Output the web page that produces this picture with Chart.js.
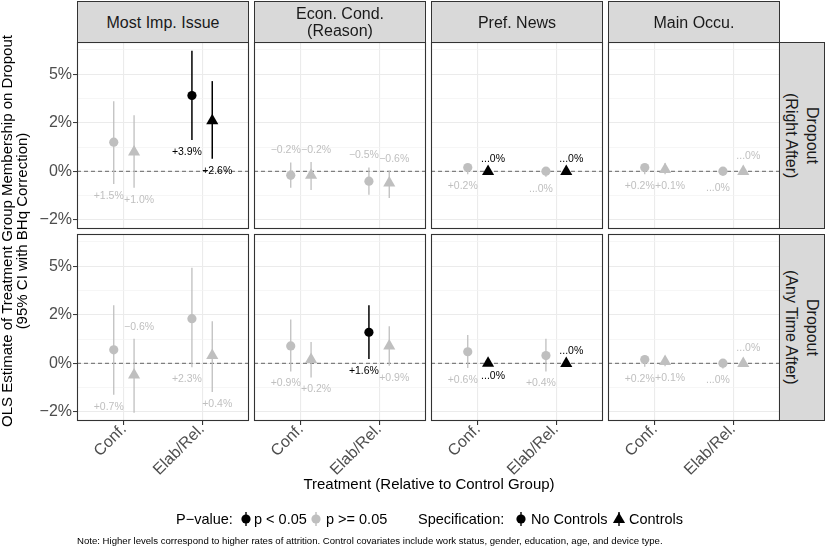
<!DOCTYPE html>
<html>
<head>
<meta charset="utf-8">
<script src="https://cdn.jsdelivr.net/npm/chart.js@4.4.1/dist/chart.umd.min.js"></script>
<style>
  body { margin: 0; background: #fff; font-family: "Liberation Sans", Arial, sans-serif; }
  #wrap { position: relative; width: 826px; height: 547px; overflow: hidden; background: #fff; }
  #wrap canvas { position: absolute; }
  .strip { position: absolute; box-sizing: border-box; border: 1px solid #333; background: #d9d9d9;
           color: #1a1a1a; font-size: 16px; line-height: 17px; display: flex; align-items: center;
           justify-content: center; text-align: center; white-space: pre; }
  .strip.side { writing-mode: vertical-rl; line-height: 21px; }
  .txt { position: absolute; white-space: pre; color: #000; }
  .key { position: absolute; }
</style>
</head>
<body>
<div id="wrap"></div>
<script>
// facets and categories
const facetLabels = ['Most Imp. Issue', 'Econ. Cond.\n(Reason)', 'Pref. News', 'Main Occu.'];
const rowLabels = ['Dropout\n(Right After)', 'Dropout\n(Any Time After)'];
const treatments = ['Conf.', 'Elab/Rel.'];
const specs = ['No Controls', 'Controls'];

// y axis (percentage points)
const yTicks = [-2.5, 0, 2.5, 5];
const yTickLabels = ['−2%', '0%', '2%', '5%'];
const yMinorTicks = [-1.25, 1.25, 3.75, 6.25];
const yMin = -2.96, yMax = 6.65;

// per panel: [Conf./No Controls, Conf./Controls, Elab/Rel./No Controls, Elab/Rel./Controls]
const estRight = [[1.5, 1.0, 3.9, 2.6], [-0.2, -0.2, -0.5, -0.6], [0.2, -0.01, 0.01, -0.01], [0.2, 0.1, 0.01, -0.01]];
const loRight  = [[-0.65, -0.84, 1.61, 0.65], [-0.84, -0.96, -1.2, -1.37], [-0.14, -0.04, -0.27, -0.04], [-0.14, -0.15, -0.22, -0.1]];
const hiRight  = [[3.61, 2.89, 6.2, 4.64], [0.46, 0.48, 0.2, 0.03], [0.34, 0.02, 0.17, 0.02], [0.37, 0.42, 0.15, 0.17]];
const sigRight = [[0, 0, 1, 1], [0, 0, 0, 0], [0, 1, 0, 1], [0, 0, 0, 0]];

const estAny = [[0.7, -0.6, 2.3, 0.4], [0.9, 0.2, 1.6, 0.9], [0.6, 0.01, 0.4, -0.01], [0.2, 0.1, 0.01, -0.01]];
const loAny  = [[-1.61, -2.53, -0.2, -1.47], [-0.41, -0.72, 0.23, -0.12], [-0.24, -0.05, -0.41, -0.04], [-0.17, -0.15, -0.26, -0.1]];
const hiAny  = [[2.99, 1.27, 4.92, 2.17], [2.25, 1.1, 2.99, 1.91], [1.46, 0.04, 1.27, 0.0], [0.4, 0.38, 0.1, 0.15]];
const sigAny = [[0, 0, 0, 0], [0, 0, 1, 0], [0, 1, 0, 1], [0, 0, 0, 0]];

const estRows = [estRight, estAny];
const loRows = [loRight, loAny];
const hiRows = [hiRight, hiAny];
const sigRows = [sigRight, sigAny];

// layout
const panelLeft = [77, 254, 431, 608];
const panelTop = [42, 234];
const PW = 172, PH = 187;
const M = 15, YW = 45, XH = 75;
const dodge = 0.13;
const GRAY = '#bfbfbf';
const FONT = '"Liberation Sans", Arial, sans-serif';

const wrap = document.getElementById('wrap');

function fmtPct(v) {
    if (Math.abs(v) < 0.05) return '...0%';
    return (v > 0 ? '+' : '−') + Math.abs(v).toFixed(1) + '%';
}

function addDiv(cls, text, css) {
    const d = document.createElement('div');
    d.className = cls;
    d.textContent = text;
    Object.assign(d.style, css);
    wrap.appendChild(d);
    return d;
}

function makePanel(r, c) {
    const est = estRows[r][c], lo = loRows[r][c], hi = hiRows[r][c], sig = sigRows[r][c];
    const xs = est.map((_, i) => Math.floor(i / 2) + 1 + (i % 2 ? dodge : -dodge));
    const colorOf = i => sig[i] ? '#000' : GRAY;

    const left = panelLeft[c] - M - (c === 0 ? YW : 0);
    const top = panelTop[r] - M;
    const w = PW + 2 * M + (c === 0 ? YW : 0);
    const h = PH + 2 * M + (r === 1 ? XH : 0);

    const cv = document.createElement('canvas');
    cv.width = w; cv.height = h;
    cv.style.left = left + 'px'; cv.style.top = top + 'px';
    cv.style.width = w + 'px'; cv.style.height = h + 'px';
    wrap.appendChild(cv);

    const datasets = [{
        data: est.map((v, i) => ({ x: xs[i], y: v })),
        pointStyle: est.map((_, i) => i % 2 ? 'triangle' : 'circle'),
        pointRadius: est.map((_, i) => i % 2 ? 7 : 4.6),
        backgroundColor: est.map((_, i) => colorOf(i)),
        borderColor: est.map((_, i) => colorOf(i)),
        borderWidth: 0,
        order: 0
    }];
    est.forEach((_, i) => {
        datasets.push({
            data: [{ x: xs[i], y: lo[i] }, { x: xs[i], y: hi[i] }],
            showLine: true,
            borderColor: colorOf(i),
            borderWidth: sig[i] ? 1.5 : 1.3,
            pointRadius: 0,
            order: 1
        });
    });
    datasets.push({
        data: [{ x: 0.4, y: 0 }, { x: 2.6, y: 0 }],
        showLine: true,
        borderColor: '#7f7f7f',
        borderWidth: 1.2,
        borderDash: [4, 3],
        pointRadius: 0,
        order: 2
    });

    const labelsAndFrame = {
        id: 'labelsAndFrame',
        afterDatasetsDraw(chart) {
            const { ctx, chartArea: a, scales: { x, y } } = chart;
            ctx.save();
            ctx.font = '10.5px ' + FONT;
            ctx.textAlign = 'center';
            ctx.textBaseline = 'middle';
            est.forEach((v, i) => {
                const px = x.getPixelForValue(xs[i]) + (i % 2 ? 5 : -5);
                const py = v > 0 ? y.getPixelForValue(lo[i]) + 12 : y.getPixelForValue(hi[i]) - 12;
                ctx.fillStyle = sig[i] ? '#000' : GRAY;
                ctx.fillText(fmtPct(v), px, py);
            });
            ctx.strokeStyle = '#333';
            ctx.lineWidth = 1.1;
            ctx.strokeRect(a.left + 0.5, a.top + 0.5, a.width - 1, a.height - 1);
            ctx.restore();
        }
    };

    const isMajor = ctx => ctx.tick && yTicks.includes(ctx.tick.value);

    new Chart(cv, {
        type: 'scatter',
        data: { datasets },
        plugins: [labelsAndFrame],
        options: {
            responsive: false,
            animation: false,
            events: [],
            layout: { padding: { left: M, right: M, top: M, bottom: M } },
            plugins: { legend: { display: false }, tooltip: { enabled: false } },
            scales: {
                x: {
                    type: 'linear', min: 0.4, max: 2.6, bounds: 'data',
                    afterBuildTicks: s => { s.ticks = treatments.map((_, i) => ({ value: i + 1 })); },
                    afterFit: s => { s.height = r === 1 ? XH : 0; },
                    border: { display: false },
                    grid: { color: '#ebebeb', lineWidth: 1.1, drawTicks: r === 1, tickLength: 4, tickColor: '#333' },
                    ticks: {
                        display: r === 1, autoSkip: false, minRotation: 45, maxRotation: 45,
                        padding: -5, color: '#4d4d4d', font: { family: FONT, size: 16 },
                        callback: v => treatments[v - 1]
                    }
                },
                y: {
                    type: 'linear', min: yMin, max: yMax, bounds: 'data',
                    afterBuildTicks: s => {
                        s.ticks = yTicks.concat(yMinorTicks).sort((a, b) => a - b).map(v => ({ value: v }));
                    },
                    afterFit: s => { s.width = c === 0 ? YW : 0; },
                    border: { display: false },
                    grid: {
                        color: ctx => isMajor(ctx) ? '#ebebeb' : '#f2f2f2',
                        lineWidth: ctx => isMajor(ctx) ? 1.1 : 0.7,
                        drawTicks: c === 0, tickLength: 4,
                        tickColor: ctx => isMajor(ctx) ? '#333' : 'rgba(0,0,0,0)',
                        tickWidth: 1
                    },
                    ticks: {
                        display: c === 0, padding: 1, color: '#4d4d4d', font: { family: FONT, size: 16 },
                        callback: v => { const k = yTicks.indexOf(v); return k >= 0 ? yTickLabels[k] : ''; }
                    }
                }
            }
        }
    });
}

for (let r = 0; r < 2; r++) for (let c = 0; c < 4; c++) makePanel(r, c);

// facet strips
facetLabels.forEach((t, c) => addDiv('strip', t, {
    left: panelLeft[c] + 'px', top: '1px', width: PW + 'px', height: panelTop[0] + 'px'
}));
rowLabels.forEach((t, r) => addDiv('strip side', t, {
    left: (panelLeft[3] + PW - 1) + 'px', top: panelTop[r] + 'px', width: '46px', height: PH + 'px'
}));

// axis titles
addDiv('txt', 'OLS Estimate of Treatment Group Membership on Dropout\n(95% CI with BHq Correction)', {
    left: (15 - 250) + 'px', top: (231 - 16) + 'px', width: '500px', height: '32px',
    fontSize: '15px', lineHeight: '15px', textAlign: 'center', transform: 'rotate(-90deg)'
});
addDiv('txt', 'Treatment (Relative to Control Group)', {
    left: '229px', top: '475px', width: '400px', textAlign: 'center', fontSize: '15px', lineHeight: '18px'
});

// legend
function key(cx, shape, color) {
    const ns = 'http://www.w3.org/2000/svg';
    const svg = document.createElementNS(ns, 'svg');
    svg.setAttribute('class', 'key');
    svg.setAttribute('width', '14'); svg.setAttribute('height', '20');
    svg.style.left = (cx - 7) + 'px'; svg.style.top = '509px';
    const ln = document.createElementNS(ns, 'line');
    ln.setAttribute('x1', 7); ln.setAttribute('x2', 7); ln.setAttribute('y1', 3); ln.setAttribute('y2', 17);
    ln.setAttribute('stroke', color); ln.setAttribute('stroke-width', 1.4);
    svg.appendChild(ln);
    let mark;
    if (shape === 'circle') {
        mark = document.createElementNS(ns, 'circle');
        mark.setAttribute('cx', 7); mark.setAttribute('cy', 10); mark.setAttribute('r', 4.6);
    } else {
        mark = document.createElementNS(ns, 'polygon');
        mark.setAttribute('points', '7,3.5 0.9,14 13.1,14');
    }
    mark.setAttribute('fill', color);
    svg.appendChild(mark);
    wrap.appendChild(svg);
}
const legendCss = { top: '510px', fontSize: '14.5px', lineHeight: '18px' };
addDiv('txt', 'P−value:', Object.assign({ left: '176px' }, legendCss));
key(246, 'circle', '#000');
addDiv('txt', 'p < 0.05', Object.assign({ left: '254px' }, legendCss));
key(316, 'circle', GRAY);
addDiv('txt', 'p >= 0.05', Object.assign({ left: '326px' }, legendCss));
addDiv('txt', 'Specification:', Object.assign({ left: '418px' }, legendCss));
key(521, 'circle', '#000');
addDiv('txt', specs[0], Object.assign({ left: '531px' }, legendCss));
key(619, 'triangle', '#000');
addDiv('txt', specs[1], Object.assign({ left: '629px' }, legendCss));

addDiv('txt', 'Note: Higher levels correspond to higher rates of attrition. Control covariates include work status, gender, education, age, and device type.', {
    left: '77px', top: '535px', fontSize: '9.6px', lineHeight: '11px'
});
</script>
</body>
</html>
